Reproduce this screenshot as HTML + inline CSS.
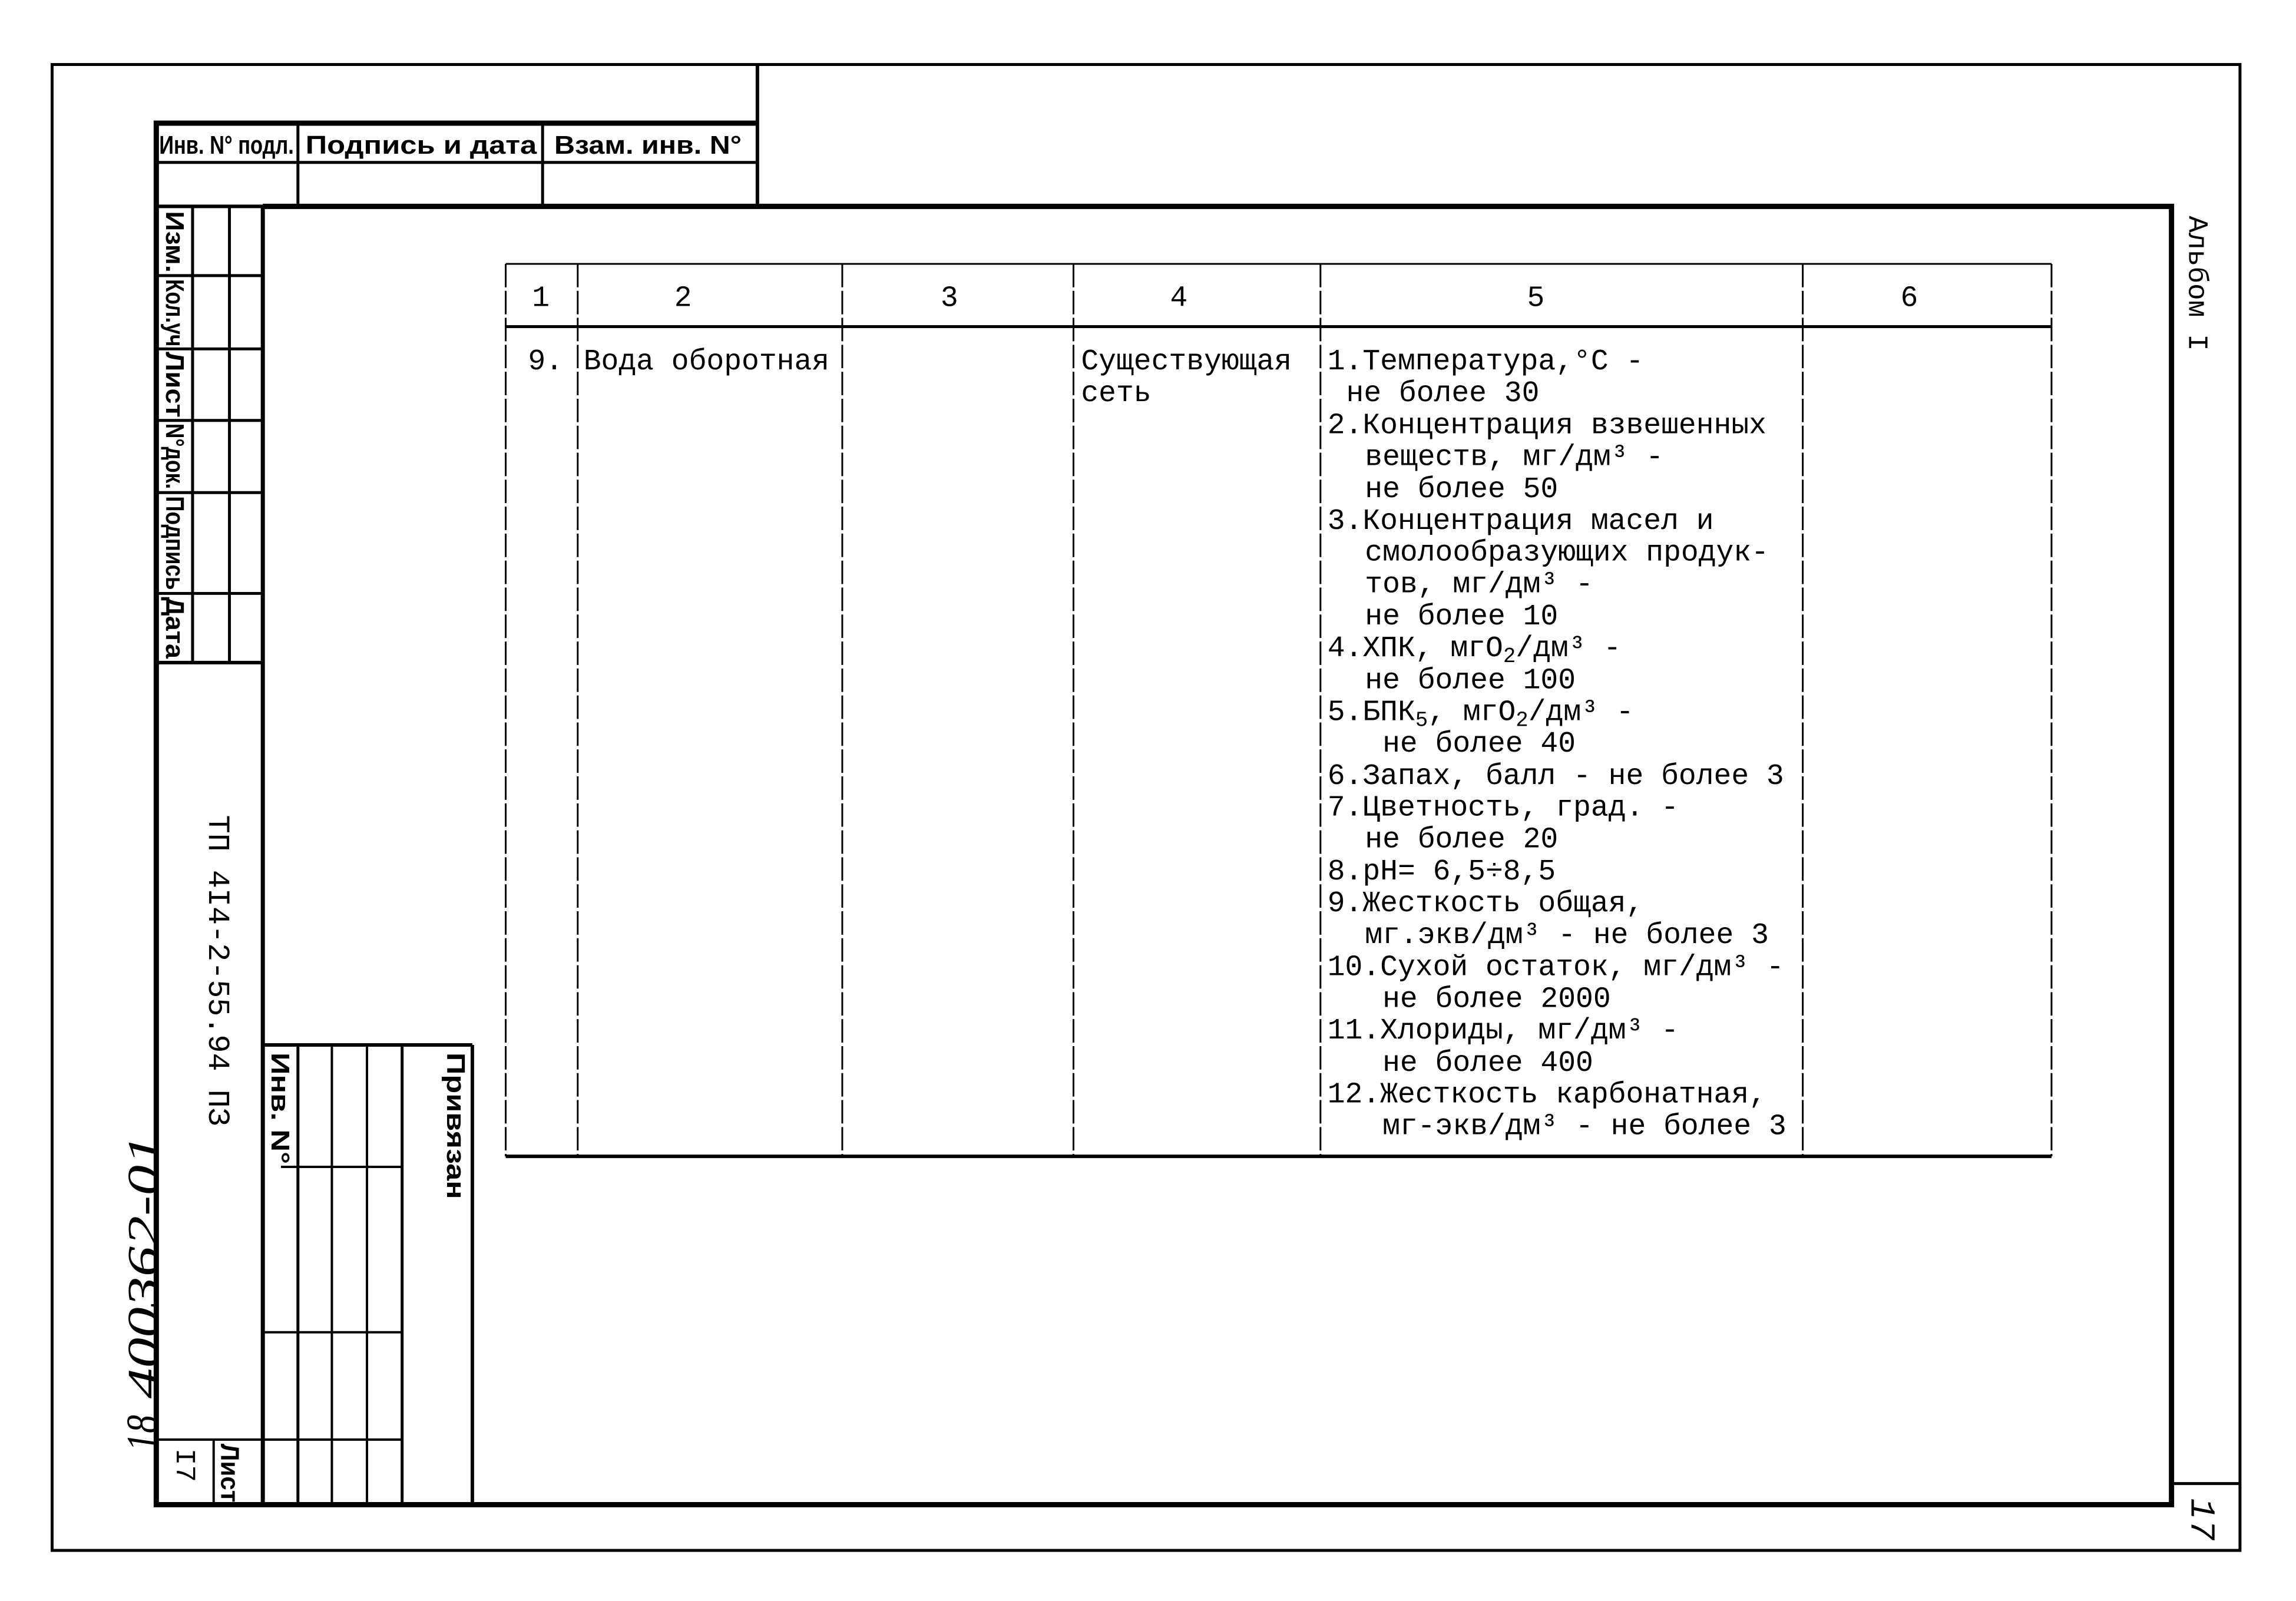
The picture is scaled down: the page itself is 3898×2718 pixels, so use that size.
<!DOCTYPE html>
<html><head><meta charset="utf-8"><style>
html,body{margin:0;padding:0;background:#fff}
svg{display:block}
.m{font-family:"Liberation Mono","DejaVu Sans Mono",monospace;font-size:50px;fill:#000}
.b{font-family:"Liberation Sans",sans-serif;font-weight:bold;fill:#000}
</style></head><body>
<svg width="3898" height="2718" viewBox="0 0 3898 2718" xmlns="http://www.w3.org/2000/svg">
<g transform="translate(2,0) scale(0.9937,0.9955)">
<g stroke="#000" fill="none">
<rect x="87" y="110" width="3738" height="2534" stroke-width="5"/>
<path d="M447 352 H3708 V2566 H265 V210 H1292" stroke-width="9"/>
<line x1="1292" y1="110" x2="1292" y2="352" stroke-width="6"/>
<line x1="265" y1="277" x2="1292" y2="277" stroke-width="5"/>
<line x1="265" y1="352" x2="447" y2="352" stroke-width="6"/>
<line x1="507" y1="210" x2="507" y2="352" stroke-width="5"/>
<line x1="925" y1="210" x2="925" y2="352" stroke-width="5"/>
<line x1="447" y1="352" x2="447" y2="2566" stroke-width="7"/>
<line x1="327" y1="352" x2="327" y2="1130" stroke-width="5"/>
<line x1="390" y1="352" x2="390" y2="1130" stroke-width="5"/>
<line x1="265" y1="470" x2="447" y2="470" stroke-width="5"/>
<line x1="265" y1="595" x2="447" y2="595" stroke-width="5"/>
<line x1="265" y1="717" x2="447" y2="717" stroke-width="5"/>
<line x1="265" y1="840" x2="447" y2="840" stroke-width="5"/>
<line x1="265" y1="1012" x2="447" y2="1012" stroke-width="5"/>
<line x1="265" y1="1130" x2="447" y2="1130" stroke-width="6"/>
<line x1="447" y1="1782" x2="805" y2="1782" stroke-width="6"/>
<line x1="805" y1="1782" x2="805" y2="2566" stroke-width="6"/>
<line x1="507" y1="1782" x2="507" y2="2566" stroke-width="5"/>
<line x1="565" y1="1782" x2="565" y2="2566" stroke-width="4"/>
<line x1="625" y1="1782" x2="625" y2="2566" stroke-width="4"/>
<line x1="685" y1="1782" x2="685" y2="2566" stroke-width="5"/>
<line x1="478" y1="1990" x2="685" y2="1990" stroke-width="4"/>
<line x1="447" y1="2272" x2="685" y2="2272" stroke-width="4"/>
<line x1="265" y1="2455" x2="685" y2="2455" stroke-width="4"/>
<line x1="363" y1="2455" x2="363" y2="2566" stroke-width="4"/>
<line x1="3708" y1="2530" x2="3825" y2="2530" stroke-width="5"/>
<line x1="862" y1="450" x2="3503" y2="450" stroke-width="3"/>
<line x1="862" y1="557" x2="3503" y2="557" stroke-width="5"/>
<line x1="862" y1="1972" x2="3503" y2="1972" stroke-width="6"/>
<g stroke-width="3" stroke-dasharray="40 6">
<line x1="862" y1="450" x2="862" y2="1972"/>
<line x1="985" y1="450" x2="985" y2="1972"/>
<line x1="1437" y1="450" x2="1437" y2="1972"/>
<line x1="1832" y1="450" x2="1832" y2="1972"/>
<line x1="2254" y1="450" x2="2254" y2="1972"/>
<line x1="3078" y1="450" x2="3078" y2="1972"/>
<line x1="3503" y1="450" x2="3503" y2="1972"/>
</g>
</g>

<g class="m" text-anchor="middle">
<text x="922" y="522">1</text><text x="1165" y="522">2</text><text x="1620" y="522">3</text>
<text x="2012" y="522">4</text><text x="2622" y="522">5</text><text x="3260" y="522">6</text>
</g>
<g class="m">
<text x="900" y="630">9.</text>
<text x="995" y="630">Вода оборотная</text>
<text x="1845" y="630">Существующая</text>
<text x="1845" y="684">сеть</text>
<text x="2266" y="630">1.Температура,°C -</text>
<text x="2298" y="684">не более 30</text>
<text x="2266" y="739">2.Концентрация взвешенных</text>
<text x="2330" y="793">веществ, мг/дм³ -</text>
<text x="2330" y="848">не более 50</text>
<text x="2266" y="902">3.Концентрация масел и</text>
<text x="2330" y="956">смолообразующих продук-</text>
<text x="2330" y="1010">тов, мг/дм³ -</text>
<text x="2330" y="1065">не более 10</text>
<text x="2266" y="1119">4.ХПК, мгO<tspan font-size="36" dy="10">2</tspan><tspan dy="-10">/дм³ -</tspan></text>
<text x="2330" y="1174">не более 100</text>
<text x="2266" y="1228">5.БПК<tspan font-size="36" dy="10">5</tspan><tspan dy="-10">, мгO</tspan><tspan font-size="36" dy="10">2</tspan><tspan dy="-10">/дм³ -</tspan></text>
<text x="2360" y="1282">не более 40</text>
<text x="2266" y="1337">6.Запах, балл - не более 3</text>
<text x="2266" y="1391">7.Цветность, град. -</text>
<text x="2330" y="1445">не более 20</text>
<text x="2266" y="1500">8.pH= 6,5÷8,5</text>
<text x="2266" y="1554">9.Жесткость общая,</text>
<text x="2330" y="1608">мг.экв/дм³ - не более 3</text>
<text x="2266" y="1663">10.Сухой остаток, мг/дм³ -</text>
<text x="2360" y="1717">не более 2000</text>
<text x="2266" y="1771">11.Хлориды, мг/дм³ -</text>
<text x="2360" y="1826">не более 400</text>
<text x="2266" y="1880">12.Жесткость карбонатная,</text>
<text x="2360" y="1934">мг-экв/дм³ - не более 3</text>
</g>

<g class="b" font-size="44">
<text x="270" y="262" textLength="230" lengthAdjust="spacingAndGlyphs">Инв. N° подл.</text>
<text x="520" y="262" textLength="395" lengthAdjust="spacingAndGlyphs">Подпись и дата</text>
<text x="945" y="262" textLength="320" lengthAdjust="spacingAndGlyphs">Взам. инв. N°</text>
</g>
<g class="b" font-size="44">
<text transform="translate(282,360) rotate(90)" textLength="105" lengthAdjust="spacingAndGlyphs">Изм.</text>
<text transform="translate(282,476) rotate(90)" textLength="115" lengthAdjust="spacingAndGlyphs">Кол.уч</text>
<text transform="translate(282,600) rotate(90)" textLength="112" lengthAdjust="spacingAndGlyphs">Лист</text>
<text transform="translate(282,722) rotate(90)" textLength="112" lengthAdjust="spacingAndGlyphs">N°док.</text>
<text transform="translate(282,846) rotate(90)" textLength="160" lengthAdjust="spacingAndGlyphs">Подпись</text>
<text transform="translate(282,1018) rotate(90)" textLength="105" lengthAdjust="spacingAndGlyphs">Дата</text>
<text transform="translate(462,1795) rotate(90)" textLength="190" lengthAdjust="spacingAndGlyphs">Инв. N°</text>
<text transform="translate(762,1795) rotate(90)" textLength="250" lengthAdjust="spacingAndGlyphs">Привязан</text>
<text transform="translate(376,2462) rotate(90)" textLength="100" lengthAdjust="spacingAndGlyphs">Лист</text>
</g>
<g class="m">
<text transform="translate(355,1390) rotate(90)" font-size="52">ТП 4I4-2-55.94 ПЗ</text>
<text transform="translate(300,2470) rotate(90)" font-size="48">I7</text>
<text transform="translate(3738,368) rotate(90)" font-size="48">Альбом I</text>
<text transform="translate(3742,2555) rotate(90)" font-size="60" font-style="italic">17</text>
</g>
<g font-family="Liberation Serif,serif" font-style="italic" font-size="76" fill="#000">
<text transform="translate(268,2385) rotate(-90)" textLength="450" lengthAdjust="spacingAndGlyphs">400362-01</text>
<text transform="translate(266,2475) rotate(-90)" textLength="62" lengthAdjust="spacingAndGlyphs">18</text>
</g>
</g>
</svg>
</body></html>
